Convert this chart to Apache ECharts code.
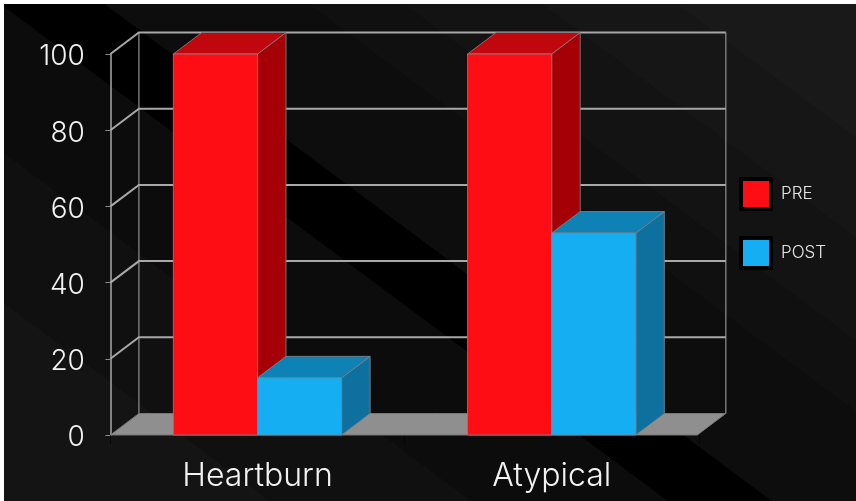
<!DOCTYPE html>
<html>
<head>
<meta charset="utf-8">
<style>
html, body { margin: 0; padding: 0; background: #fff; }
#chart { width: 856px; height: 501px; }
</style>
<script src="https://cdn.jsdelivr.net/npm/echarts@6/dist/echarts.min.js"></script>
</head>
<body>
<div id="chart"></div>
<script>
// Symptom scores before and after treatment
const categories = ['Heartburn', 'Atypical'];
const preValues = [100, 100];
const postValues = [15, 53];
const yTicks = [0, 20, 40, 60, 80, 100];
const seriesNames = ['PRE', 'POST'];

// Oblique projection of the depth axis, in pixels
const DEPTH_X = 28.5;
const DEPTH_Y = 21.5;
const BAR_SHARE = 0.286;
const WALL_INSET = 1.5;
const FONT = 'Inter, Lato, sans-serif';

const PALETTE = {
  PRE: { front: '#ff0d14', top: '#c0070e', side: '#a50006' },
  POST: { front: '#15aef3', top: '#0f82b5', side: '#0d709e' }
};

// Diagonal background stripes, each painted from its upper edge y = slope * x + offset
// down to the bottom, so that later stripes overlap earlier ones without seams
const SLOPE = 0.745;
const stripes = [
  [-500, '#161616'],
  [-400, '#131313'],
  [-297, '#101010'],
  [-226, '#0d0d0d'],
  [-74, '#000000'],
  [3.5, '#0c0c0c'],
  [150, '#101010'],
  [300, '#141414']
];

function stripeShapes() {
  const xa = -20, xb = 880;
  const shapes = [{ type: 'rect', silent: true, shape: { x: 0, y: 0, width: 856, height: 501 }, style: { fill: '#191919' } }];
  stripes.forEach(([c, fill]) => shapes.push({
    type: 'polygon',
    silent: true,
    shape: { points: [[xa, SLOPE * xa + c], [xb, SLOPE * xb + c], [xb, 1200], [xa, 1200]] },
    style: { fill }
  }));
  // Slide margin along the top and left edges
  shapes.push({ type: 'rect', silent: true, shape: { x: 0, y: 0, width: 856, height: 4 }, style: { fill: '#fff' } });
  shapes.push({ type: 'rect', silent: true, shape: { x: 0, y: 0, width: 4, height: 501 }, style: { fill: '#fff' } });
  return shapes;
}

// Back wall, side wall and floor
function renderWall(params, api) {
  const v = api.value(1);
  const cs = params.coordSys;
  const y = api.coord([0, v])[1];
  const yBase = api.coord([0, yTicks[0]])[1];
  const yTop = api.coord([0, yTicks[yTicks.length - 1]])[1];
  const L = cs.x, R = cs.x + cs.width - WALL_INSET;
  const children = [];
  if (v === yTicks[0]) {
    children.push({
      type: 'polygon',
      shape: { points: [[L, y], [L + DEPTH_X, y - DEPTH_Y], [R + DEPTH_X, y - DEPTH_Y], [R, y]] },
      style: { fill: '#8f8f8f', stroke: '#777', lineWidth: 1 }
    });
    [L + DEPTH_X, R + DEPTH_X].forEach(x => children.push({
      type: 'line',
      shape: { x1: x, y1: yBase - DEPTH_Y, x2: x, y2: yTop - DEPTH_Y },
      style: { stroke: '#777', lineWidth: 1.5 }
    }));
  } else {
    children.push({
      type: 'polyline',
      shape: { points: [[L, y], [L + DEPTH_X, y - DEPTH_Y], [R + DEPTH_X, y - DEPTH_Y]] },
      style: { fill: 'none', stroke: '#a8a8a8', lineWidth: 2 }
    });
  }
  return { type: 'group', children };
}

// One extruded bar; slot is 0 for the left bar of a pair, 1 for the right
function makeBarRenderer(name, slot) {
  const colors = PALETTE[name];
  return function (params, api) {
    const band = api.size([1, 0])[0];
    const w = band * BAR_SHARE;
    const center = api.coord([api.value(0), 0])[0];
    const x0 = center - w + slot * w;
    const x1 = x0 + w;
    const yBase = api.coord([0, 0])[1];
    const yTop = api.coord([0, api.value(1)])[1];
    const edge = { stroke: 'rgba(125,130,135,0.85)', lineWidth: 1 };
    return {
      type: 'group',
      children: [
        { type: 'polygon',
          shape: { points: [[x1, yBase], [x1 + DEPTH_X, yBase - DEPTH_Y], [x1 + DEPTH_X, yTop - DEPTH_Y], [x1, yTop]] },
          style: Object.assign({ fill: colors.side }, edge) },
        { type: 'polygon',
          shape: { points: [[x0, yTop], [x0 + DEPTH_X, yTop - DEPTH_Y], [x1 + DEPTH_X, yTop - DEPTH_Y], [x1, yTop]] },
          style: Object.assign({ fill: colors.top }, edge) },
        { type: 'polygon',
          shape: { points: [[x0, yBase], [x0, yTop], [x1, yTop], [x1, yBase]] },
          style: Object.assign({ fill: colors.front }, edge) }
      ]
    };
  };
}

function barSeries(name, values, slot) {
  return {
    type: 'custom',
    name,
    z: 3 + slot,
    renderItem: makeBarRenderer(name, slot),
    itemStyle: { color: PALETTE[name].front },
    data: values.map((v, i) => [i, v])
  };
}

const chart = echarts.init(document.getElementById('chart'), null, { renderer: 'canvas' });
chart.setOption({
  animation: false,
  backgroundColor: 'transparent',
  graphic: { elements: stripeShapes() },
  legend: {
    data: seriesNames,
    orient: 'vertical',
    left: 739,
    top: 177,
    padding: 0,
    itemWidth: 30,
    itemHeight: 30,
    itemGap: 25,
    icon: 'rect',
    selectedMode: false,
    itemStyle: { borderColor: '#000', borderWidth: 4 },
    textStyle: { color: '#e4e4e4', fontFamily: FONT, fontWeight: 300, fontSize: 17, padding: [0, 0, 0, 5] }
  },
  grid: { left: 110.4, top: 54, width: 588.4, height: 381, containLabel: false },
  xAxis: {
    type: 'category',
    data: categories,
    axisLine: { show: false },
    axisTick: { show: true, length: 9, lineStyle: { color: '#050505', width: 1 } },
    axisLabel: { color: '#f2f2f2', fontFamily: FONT, fontWeight: 300, fontSize: 32, margin: 25 }
  },
  yAxis: {
    type: 'value',
    min: yTicks[0],
    max: yTicks[yTicks.length - 1],
    interval: 20,
    splitLine: { show: false },
    axisLine: { show: true, lineStyle: { color: '#a8a8a8', width: 1.5 } },
    axisTick: { show: true, length: 5, lineStyle: { color: '#8a8a8a', width: 1 } },
    axisLabel: { color: '#f2f2f2', fontFamily: FONT, fontWeight: 300, fontSize: 28, margin: 25.5, verticalAlign: 'top', padding: [-11, 0, 0, 0] }
  },
  series: [
    {
      type: 'custom',
      name: 'walls',
      z: 2,
      silent: true,
      renderItem: renderWall,
      data: yTicks.map(v => [0, v])
    },
    barSeries(seriesNames[0], preValues, 0),
    barSeries(seriesNames[1], postValues, 1)
  ]
});
</script>
</body>
</html>
